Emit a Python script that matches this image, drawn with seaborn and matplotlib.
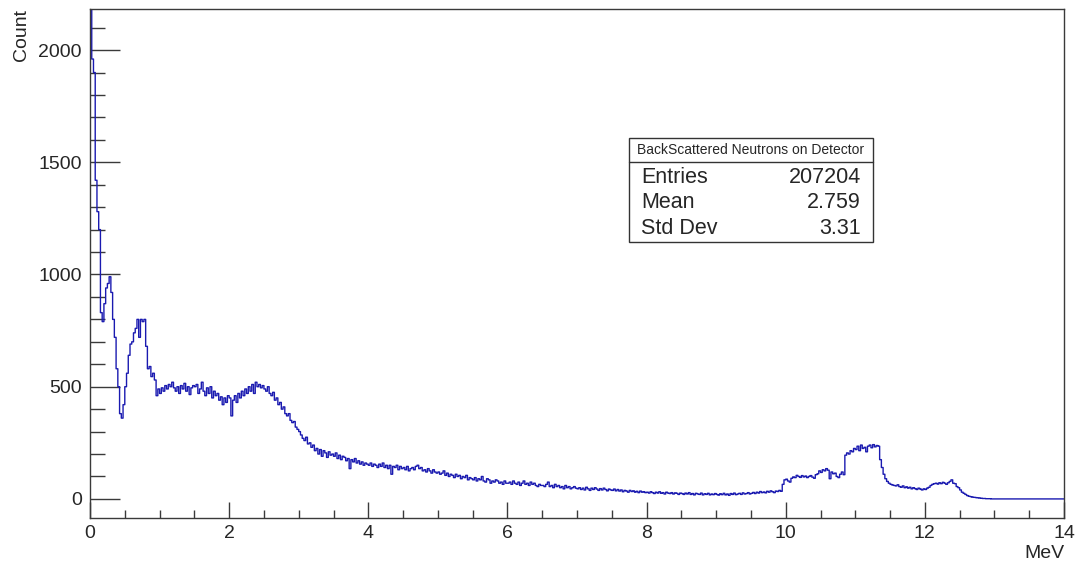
import numpy as np
import pandas as pd
import matplotlib
matplotlib.use("Agg")
import matplotlib.pyplot as plt
import seaborn as sns
from matplotlib.ticker import MultipleLocator

# ---------------- data (counts per 0.025 MeV bin, 0..14 MeV) ----------------
bin_width = 0.025
e_min, e_max = 0.0, 14.0

counts_00_05 = [2900, 1960, 1900, 1420, 1280, 1200, 830, 790, 870, 940,
                960, 990, 920, 800, 720, 580, 500, 380, 360, 420]
counts_05_10 = [500, 560, 640, 690, 700, 740, 760, 800, 720, 800,
                790, 800, 680, 580, 590, 545, 560, 530, 460, 490]
counts_10_15 = [470, 495, 480, 505, 490, 510, 500, 520, 495, 480,
                500, 470, 505, 490, 515, 480, 500, 465, 495, 505]
counts_15_20 = [500, 510, 470, 490, 520, 480, 460, 495, 470, 500,
                450, 480, 460, 470, 440, 455, 420, 450, 430, 460]
counts_20_25 = [450, 370, 440, 460, 430, 470, 450, 480, 460, 490,
                470, 500, 480, 510, 470, 520, 500, 510, 495, 505]
counts_25_30 = [490, 480, 500, 470, 460, 475, 440, 450, 420, 430,
                400, 410, 380, 370, 380, 350, 340, 345, 320, 310]
counts_30_35 = [300, 285, 270, 260, 275, 245, 250, 230, 240, 215,
                225, 200, 220, 190, 215, 205, 185, 210, 195, 200]
counts_35_40 = [190, 205, 180, 195, 175, 190, 185, 170, 180, 135,
                175, 165, 180, 160, 170, 155, 165, 150, 160, 155]
counts_40_45 = [150, 160, 145, 155, 150, 140, 155, 145, 160, 140,
                150, 135, 150, 110, 145, 140, 150, 130, 145, 135]
counts_45_50 = [140, 130, 145, 125, 135, 140, 130, 145, 150, 135,
                140, 125, 130, 120, 135, 125, 115, 130, 120, 115]
counts_50_55 = [120, 110, 115, 125, 105, 115, 100, 110, 105, 95,
                110, 100, 105, 90, 100, 95, 105, 85, 95, 90]
counts_55_60 = [85, 95, 80, 90, 85, 100, 80, 75, 90, 85,
                70, 80, 75, 85, 80, 70, 75, 65, 80, 70]
counts_60_65 = [70, 75, 65, 80, 70, 65, 75, 60, 70, 80,
                65, 70, 60, 75, 65, 70, 60, 55, 65, 60]
counts_65_70 = [60, 55, 65, 75, 55, 60, 50, 65, 55, 60,
                50, 55, 45, 60, 50, 55, 45, 50, 55, 48]
counts_70_75 = [45, 50, 42, 48, 40, 52, 45, 38, 48, 42,
                50, 44, 38, 46, 40, 48, 42, 36, 44, 40]
counts_75_80 = [38, 44, 36, 42, 35, 40, 32, 38, 35, 30,
                38, 33, 36, 30, 34, 28, 35, 30, 32, 28]
counts_80_85 = [30, 26, 32, 28, 24, 30, 26, 32, 25, 28,
                22, 30, 26, 24, 28, 22, 27, 25, 20, 26]
counts_85_90 = [24, 20, 26, 22, 28, 20, 24, 18, 25, 22,
                20, 26, 18, 23, 20, 25, 18, 22, 19, 24]
counts_90_95 = [20, 17, 23, 19, 25, 18, 22, 16, 24, 20,
                26, 19, 22, 25, 20, 27, 22, 24, 28, 22]
counts_95_100 = [25, 29, 24, 30, 26, 33, 28, 31, 27, 34,
                 30, 36, 32, 28, 35, 33, 38, 34, 65, 85]
counts_100_105 = [88, 80, 75, 92, 98, 95, 105, 100, 96, 104,
                  98, 102, 95, 100, 104, 97, 92, 108, 112, 125]
counts_105_110 = [118, 130, 125, 135, 128, 90, 120, 112, 115, 100,
                  95, 110, 120, 108, 195, 205, 200, 215, 210, 225]
counts_110_115 = [220, 235, 215, 240, 225, 230, 210, 235, 240, 228,
                  242, 232, 238, 235, 175, 140, 110, 90, 78, 70]
counts_115_120 = [65, 62, 60, 58, 63, 55, 52, 58, 50, 54,
                  48, 52, 45, 50, 46, 42, 48, 44, 40, 45]
counts_120_125 = [42, 48, 52, 60, 65, 68, 70, 66, 72, 68,
                  74, 70, 65, 72, 78, 85, 70, 68, 55, 50]
counts_125_130 = [40, 30, 25, 20, 15, 12, 10, 8, 7, 6,
                  5, 4, 3, 2, 2, 1, 1, 1, 0, 0]
counts_130_135 = [0, 0, 0, 0, 0, 0, 0, 0, 0, 0,
                  0, 0, 0, 0, 0, 0, 0, 0, 0, 0]
counts_135_140 = [0, 0, 0, 0, 0, 0, 0, 0, 0, 0,
                  0, 0, 0, 0, 0, 0, 0, 0, 0, 0]

x_ticks = [0, 2, 4, 6, 8, 10, 12, 14]
y_ticks = [0, 500, 1000, 1500, 2000]

stats_title = "BackScattered Neutrons on Detector"
stats_names = ["Entries", "Mean", "Std Dev"]
stats_values = ["207204", "2.759", "3.31"]

# ---------------- build table ----------------
counts = (counts_00_05 + counts_05_10 + counts_10_15 + counts_15_20 +
          counts_20_25 + counts_25_30 + counts_30_35 + counts_35_40 +
          counts_40_45 + counts_45_50 + counts_50_55 + counts_55_60 +
          counts_60_65 + counts_65_70 + counts_70_75 + counts_75_80 +
          counts_80_85 + counts_85_90 + counts_90_95 + counts_95_100 +
          counts_100_105 + counts_105_110 + counts_110_115 + counts_115_120 +
          counts_120_125 + counts_125_130 + counts_130_135 + counts_135_140)
n_bins = len(counts)
edges = np.linspace(e_min, e_max, n_bins + 1)
centers = 0.5 * (edges[:-1] + edges[1:])
df = pd.DataFrame({"MeV": centers, "Count": np.asarray(counts, dtype=float)})

# ---------------- plot ----------------
sns.set_style("white")
plt.rcParams["font.family"] = ["Liberation Sans", "DejaVu Sans"]

fig = plt.figure(figsize=(10.82, 5.66), dpi=100)
ax = fig.add_axes([90 / 1082, 1 - 518 / 566, 974 / 1082, 509 / 566])

sns.histplot(data=df, x="MeV", weights="Count", binwidth=bin_width,
             binrange=(e_min, e_max), element="step", fill=False,
             color="#1a1ab0", linewidth=1.0, ax=ax)

ax.set_xlim(e_min, e_max)
ax.set_ylim(-85, 2183)

ax.set_xticks(x_ticks)
ax.set_xticklabels([str(t) for t in x_ticks])
ax.set_yticks(y_ticks)
ax.set_yticklabels([str(t) for t in y_ticks])
ax.xaxis.set_minor_locator(MultipleLocator(0.5))
ax.yaxis.set_minor_locator(MultipleLocator(100))

frame_col = "#3a3a3a"
for s in ax.spines.values():
    s.set_color(frame_col)
    s.set_linewidth(1.0)
    s.set_visible(True)

ax.tick_params(axis="x", which="major", direction="in", length=11.5, width=1,
               color=frame_col, labelsize=14, pad=5, top=False, bottom=True)
ax.tick_params(axis="x", which="minor", direction="in", length=5.8, width=1,
               color=frame_col, top=False, bottom=True)
ax.tick_params(axis="y", which="major", direction="in", length=21.6, width=1,
               color=frame_col, labelsize=14, pad=6, right=False, left=True)
ax.tick_params(axis="y", which="minor", direction="in", length=10.8, width=1,
               color=frame_col, right=False, left=True)

ax.set_xlabel("MeV", fontsize=14, loc="right")
ax.xaxis.set_label_coords(1.0, -0.054)
ax.set_ylabel("Count", fontsize=14, loc="top")
ax.yaxis.set_label_coords(-0.062, 1.0)
ax.grid(False)

# ---------------- stats box ----------------
bx0, bx1 = 0.5534, 0.8039
by0, by1 = 0.5422, 0.7466
bsep = 0.6994
box = plt.Rectangle((bx0, by0), bx1 - bx0, by1 - by0, transform=ax.transAxes,
                    facecolor="white", edgecolor="#333333", linewidth=1.0, zorder=5)
ax.add_patch(box)
ax.plot([bx0, bx1], [bsep, bsep], transform=ax.transAxes, color="#333333",
        linewidth=1.0, zorder=6)
ax.text((bx0 + bx1) / 2, (bsep + by1) / 2, stats_title, transform=ax.transAxes,
        ha="center", va="center", fontsize=10, zorder=7)
row_y = [0.668, 0.620, 0.569]
for name, val, yy in zip(stats_names, stats_values, row_y):
    ax.text(0.5657, yy, name, transform=ax.transAxes, ha="left", va="center",
            fontsize=15.5, zorder=7)
    ax.text(0.7916, yy, val, transform=ax.transAxes, ha="right", va="center",
            fontsize=15.5, zorder=7)

fig.savefig("out.png", dpi=100)
